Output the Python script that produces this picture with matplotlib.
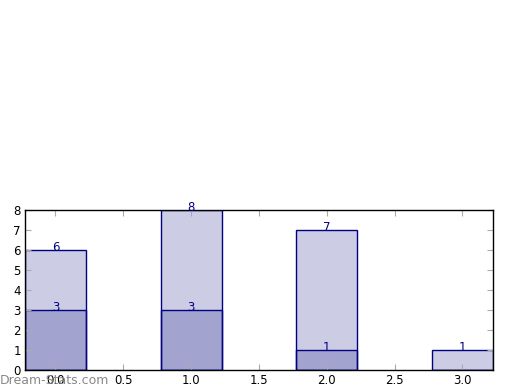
import matplotlib
matplotlib.use("Agg")
import matplotlib.pyplot as plt

positions = [0, 1, 2, 3]
total_values = [6, 8, 7, 1]
sub_values = [3, 3, 1, 0]
xticks = [0.0, 0.5, 1.0, 1.5, 2.0, 2.5, 3.0]
yticks = [0, 1, 2, 3, 4, 5, 6, 7, 8]

fig = plt.figure(figsize=(5.2, 3.9), dpi=100)
ax = fig.add_axes([0.048, 0.0513, 0.9, 0.4102])

width = 0.45
ax.bar(positions, total_values, width, color=(0, 0, 0.5, 0.2), edgecolor='navy', linewidth=1)
ax.bar(positions, sub_values, width, color=(0, 0, 0.5, 0.2), edgecolor='navy', linewidth=1)

for x, v in zip(positions, total_values):
    if v:
        ax.text(x, v - 0.03, str(v), ha='center', va='baseline', color='navy', fontsize=8.5)
for x, v in zip(positions, sub_values):
    if v:
        ax.text(x, v - 0.03, str(v), ha='center', va='baseline', color='navy', fontsize=8.5)

ax.set_xlim(-0.225, 3.225)
ax.set_ylim(0, 8)
ax.set_xticks(xticks)
ax.set_xticklabels([f"{t:.1f}" for t in xticks])
ax.set_yticks(yticks)
ax.tick_params(direction='in', length=4, color='#aaaaaa', labelsize=8.5, top=True, right=True, pad=3)
for s in ax.spines.values():
    s.set_linewidth(1)

fig.text(0.0, 0.008, "Dream-Stats.com", color='#888888', fontsize=9, ha='left', va='bottom')

fig.savefig("out.png", dpi=100)
